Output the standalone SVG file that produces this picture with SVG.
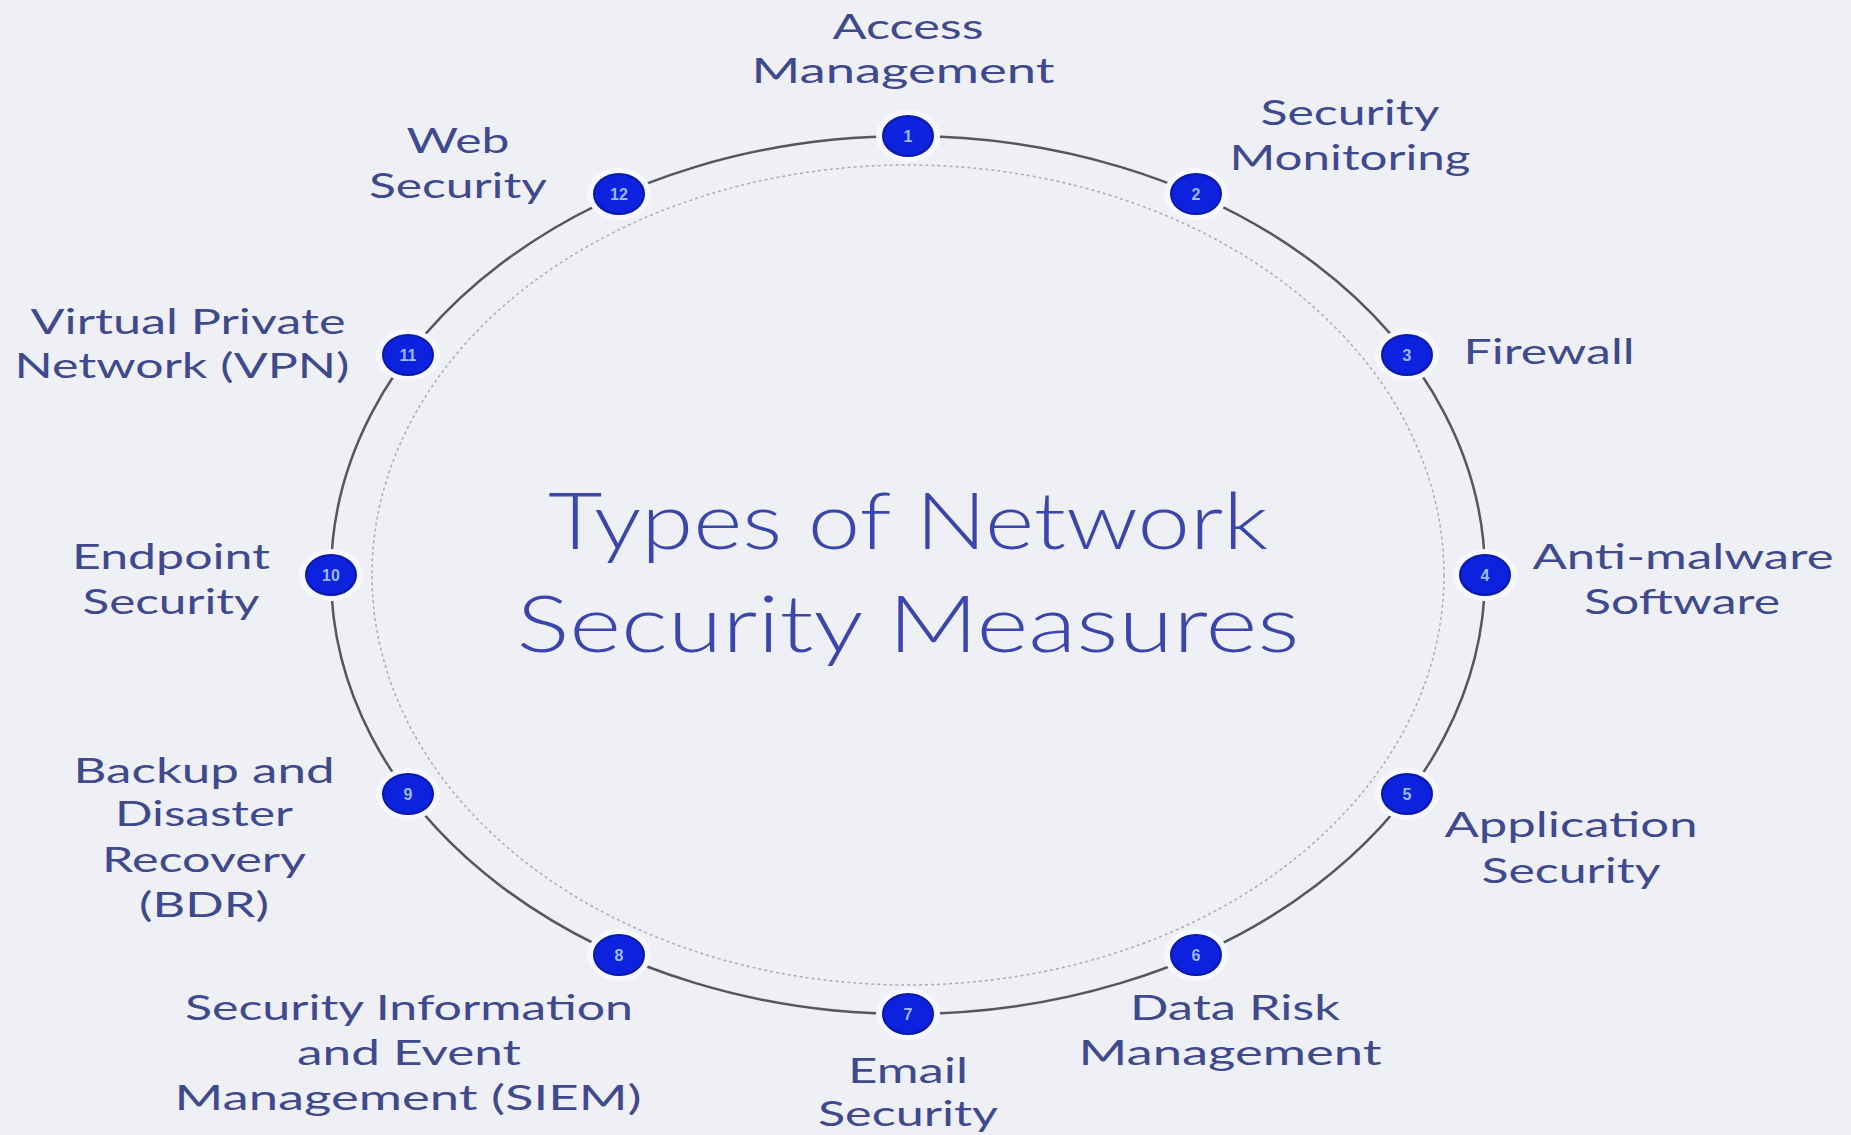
<svg xmlns="http://www.w3.org/2000/svg" width="1851" height="1135" viewBox="0 0 1851 1135">
<style>
.lbl{font-family:"Lato","Liberation Sans",sans-serif;font-size:34px;fill:#3f4a8e;text-anchor:middle}
.ttl{font-family:"Lato","Liberation Sans",sans-serif;font-weight:300;font-size:78px;fill:#3a46ac;text-anchor:middle}
.halo{fill:#f7f8ff}
.dot{fill:#0c22df;stroke:#0a1aa6;stroke-width:2}
.num{font-family:"Liberation Sans",sans-serif;font-weight:bold;font-size:16px;fill:#9dbaf5;text-anchor:middle}
</style>
<rect width="1851" height="1135" fill="#eff0f5"/>
<g id="connectors">
<ellipse cx="908" cy="575" rx="536" ry="410" fill="none" stroke="#a9abbd" stroke-width="1.5" stroke-dasharray="3 3"/>
<ellipse cx="908" cy="575" rx="577" ry="439" fill="none" stroke="#55565f" stroke-width="2.5"/>
</g>
<g id="title">
<text class="ttl" x="908" y="549" textLength="720" lengthAdjust="spacingAndGlyphs">Types of Network</text>
<text class="ttl" x="908" y="652" textLength="783" lengthAdjust="spacingAndGlyphs">Security Measures</text>
</g>
<g id="n1"><ellipse class="halo" cx="908" cy="136" rx="32" ry="26"/><ellipse class="dot" cx="908" cy="136" rx="25" ry="20"/><text class="num" x="908" y="142">1</text>
<text class="lbl" x="908" y="39" textLength="151" lengthAdjust="spacingAndGlyphs">Access</text>
<text class="lbl" x="903" y="83" textLength="303" lengthAdjust="spacingAndGlyphs">Management</text></g>
<g id="n2"><ellipse class="halo" cx="1196" cy="194" rx="32" ry="26"/><ellipse class="dot" cx="1196" cy="194" rx="25" ry="20"/><text class="num" x="1196" y="200">2</text>
<text class="lbl" x="1350" y="125" textLength="179" lengthAdjust="spacingAndGlyphs">Security</text>
<text class="lbl" x="1350" y="170" textLength="241" lengthAdjust="spacingAndGlyphs">Monitoring</text></g>
<g id="n3"><ellipse class="halo" cx="1407" cy="355" rx="32" ry="26"/><ellipse class="dot" cx="1407" cy="355" rx="25" ry="20"/><text class="num" x="1407" y="361">3</text>
<text class="lbl" x="1549" y="364" textLength="171" lengthAdjust="spacingAndGlyphs">Firewall</text></g>
<g id="n4"><ellipse class="halo" cx="1485" cy="575" rx="32" ry="26"/><ellipse class="dot" cx="1485" cy="575" rx="25" ry="20"/><text class="num" x="1485" y="581">4</text>
<text class="lbl" x="1683" y="569" textLength="301" lengthAdjust="spacingAndGlyphs">Anti-malware</text>
<text class="lbl" x="1682" y="614" textLength="196" lengthAdjust="spacingAndGlyphs">Software</text></g>
<g id="n5"><ellipse class="halo" cx="1407" cy="794" rx="32" ry="26"/><ellipse class="dot" cx="1407" cy="794" rx="25" ry="20"/><text class="num" x="1407" y="800">5</text>
<text class="lbl" x="1571" y="837" textLength="253" lengthAdjust="spacingAndGlyphs">Application</text>
<text class="lbl" x="1571" y="883" textLength="179" lengthAdjust="spacingAndGlyphs">Security</text></g>
<g id="n6"><ellipse class="halo" cx="1196" cy="955" rx="32" ry="26"/><ellipse class="dot" cx="1196" cy="955" rx="25" ry="20"/><text class="num" x="1196" y="961">6</text>
<text class="lbl" x="1235" y="1020" textLength="210" lengthAdjust="spacingAndGlyphs">Data Risk</text>
<text class="lbl" x="1230" y="1065" textLength="303" lengthAdjust="spacingAndGlyphs">Management</text></g>
<g id="n7"><ellipse class="halo" cx="908" cy="1014" rx="32" ry="26"/><ellipse class="dot" cx="908" cy="1014" rx="25" ry="20"/><text class="num" x="908" y="1020">7</text>
<text class="lbl" x="908" y="1083" textLength="120" lengthAdjust="spacingAndGlyphs">Email</text>
<text class="lbl" x="908" y="1126" textLength="180" lengthAdjust="spacingAndGlyphs">Security</text></g>
<g id="n8"><ellipse class="halo" cx="619" cy="955" rx="32" ry="26"/><ellipse class="dot" cx="619" cy="955" rx="25" ry="20"/><text class="num" x="619" y="961">8</text>
<text class="lbl" x="409" y="1020" textLength="448" lengthAdjust="spacingAndGlyphs">Security Information</text>
<text class="lbl" x="409" y="1065" textLength="224" lengthAdjust="spacingAndGlyphs">and Event</text>
<text class="lbl" x="408" y="1110" textLength="467" lengthAdjust="spacingAndGlyphs">Management (SIEM)</text></g>
<g id="n9"><ellipse class="halo" cx="408" cy="794" rx="32" ry="26"/><ellipse class="dot" cx="408" cy="794" rx="25" ry="20"/><text class="num" x="408" y="800">9</text>
<text class="lbl" x="204" y="783" textLength="261" lengthAdjust="spacingAndGlyphs">Backup and</text>
<text class="lbl" x="204" y="826" textLength="178" lengthAdjust="spacingAndGlyphs">Disaster</text>
<text class="lbl" x="204" y="872" textLength="204" lengthAdjust="spacingAndGlyphs">Recovery</text>
<text class="lbl" x="204" y="917" textLength="130" lengthAdjust="spacingAndGlyphs">(BDR)</text></g>
<g id="n10"><ellipse class="halo" cx="331" cy="575" rx="32" ry="26"/><ellipse class="dot" cx="331" cy="575" rx="25" ry="20"/><text class="num" x="331" y="581">10</text>
<text class="lbl" x="171" y="569" textLength="198" lengthAdjust="spacingAndGlyphs">Endpoint</text>
<text class="lbl" x="171" y="614" textLength="177" lengthAdjust="spacingAndGlyphs">Security</text></g>
<g id="n11"><ellipse class="halo" cx="408" cy="355" rx="32" ry="26"/><ellipse class="dot" cx="408" cy="355" rx="25" ry="20"/><text class="num" x="408" y="361">11</text>
<text class="lbl" x="188" y="334" textLength="315" lengthAdjust="spacingAndGlyphs">Virtual Private</text>
<text class="lbl" x="182" y="378" textLength="335" lengthAdjust="spacingAndGlyphs">Network (VPN)</text></g>
<g id="n12"><ellipse class="halo" cx="619" cy="194" rx="32" ry="26"/><ellipse class="dot" cx="619" cy="194" rx="25" ry="20"/><text class="num" x="619" y="200">12</text>
<text class="lbl" x="458" y="153" textLength="103" lengthAdjust="spacingAndGlyphs">Web</text>
<text class="lbl" x="458" y="198" textLength="178" lengthAdjust="spacingAndGlyphs">Security</text></g>
</svg>
